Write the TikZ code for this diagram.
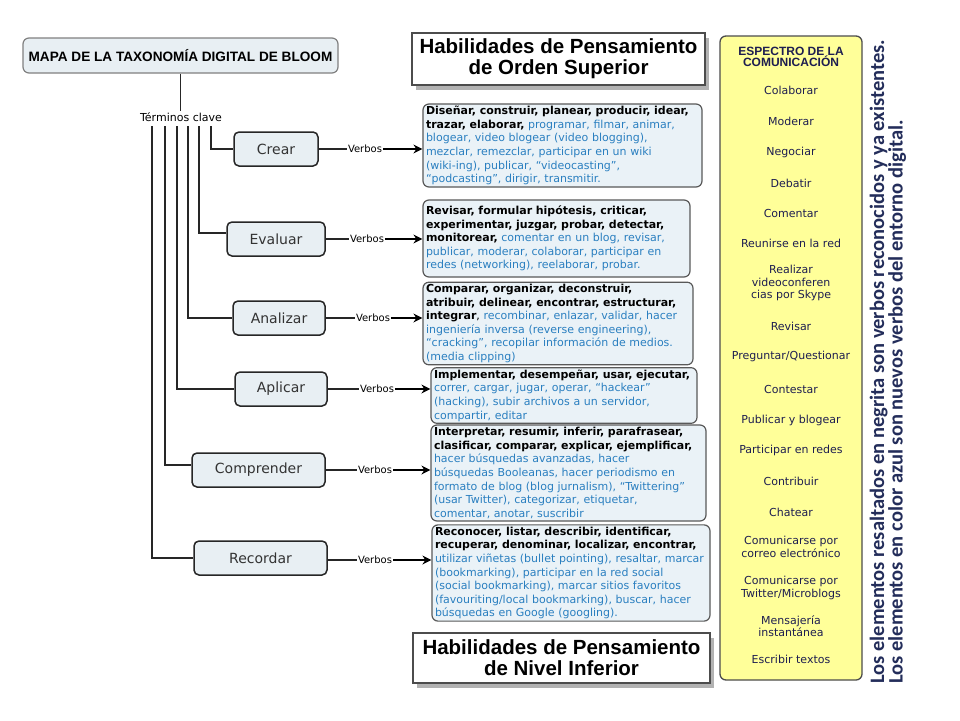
\documentclass[tikz,border=0pt]{standalone}
\usepackage{fontspec}
\setmainfont{DejaVu Sans}
\newfontfamily\libfont{Liberation Sans}
\newfontfamily\carlfont{Carlito}
\usetikzlibrary{shadows,arrows.meta,calc}
\definecolor{vblue}{RGB}{42,127,192}
\definecolor{navy}{RGB}{30,30,80}
\definecolor{notecol}{RGB}{35,45,90}
\definecolor{lvfill}{RGB}{232,239,243}
\definecolor{vfill}{RGB}{234,242,247}
\definecolor{ylw}{RGB}{255,255,153}
\newcommand{\vbo}[1]{\textbf{#1}}
\newcommand{\vbl}[1]{\textcolor{vblue}{#1}}
\begin{document}
\begin{tikzpicture}[x=1pt,y=-1pt,
  titlebox/.style={draw=black!50, line width=1.2pt, fill=lvfill, rounded corners=6pt,
    minimum width=315pt, minimum height=35pt, font=\libfont\bfseries\fontsize{13.6}{15}\selectfont},
  terms/.style={font=\fontsize{11}{13}\selectfont, inner sep=1pt},
  level/.style={draw=black!85, line width=1.5pt, fill=lvfill, rounded corners=5pt,
    minimum height=34pt, font=\fontsize{14}{16}\selectfont, text=black!80},
  conn/.style={line width=1.5pt, draw=black!85},
  verbl/.style={font=\fontsize{10}{12}\selectfont, inner sep=1pt},
  arr/.style={line width=1.5pt, draw=black, -{Stealth[length=9pt,width=9pt]}},
  vbox/.style={draw=black!65, line width=1.2pt, fill=vfill, rounded corners=6pt, align=left,
    font=\fontsize{11}{13.6}\selectfont, inner xsep=3pt, inner ysep=2pt},
  hdr/.style={draw=black!70, line width=1.2pt, fill=white,
    drop shadow={shadow xshift=4pt,shadow yshift=-5pt,fill=black!60},
    font=\libfont\bfseries\fontsize{20.5}{21}\selectfont, align=center},
  ybox/.style={draw=black!70, line width=1.3pt, fill=ylw, rounded corners=6pt},
  item/.style={font=\fontsize{11}{12.5}\selectfont, text=navy, align=center, inner sep=0pt},
]
\fill[white] (0,0) rectangle (960,720);
\useasboundingbox (0,0) rectangle (960,720);

% title and key terms
\node[titlebox] (title) at (180.5,55.5) {MAPA DE LA TAXONOMÍA DIGITAL DE BLOOM};
\node[terms] (terms) at (181,117) {Términos clave};
\draw[conn] (title.south) -- (title.south |- terms.north);

% levels
\node[level, minimum width=84pt]  (crear)      at (276,149)   {Crear};
\node[level, minimum width=98pt]  (evaluar)    at (276,239)   {Evaluar};
\node[level, minimum width=92pt]  (analizar)   at (279,318)   {Analizar};
\node[level, minimum width=92pt]  (aplicar)    at (281,389)   {Aplicar};
\node[level, minimum width=133pt] (comprender) at (258.5,470) {Comprender};
\node[level, minimum width=133pt] (recordar)   at (260.5,558) {Recordar};

\coordinate (r1) at (211,126);
\coordinate (r2) at (199,126);
\coordinate (r3) at (188,126);
\coordinate (r4) at (177,126);
\coordinate (r5) at (165,126);
\coordinate (r6) at (152,126);
\draw[conn] (r1) |- (crear.west);
\draw[conn] (r2) |- ([yshift=6pt]evaluar.west);
\draw[conn] (r3) |- (analizar.west);
\draw[conn] (r4) |- (aplicar.west);
\draw[conn] (r5) |- ([yshift=5pt]comprender.west);
\draw[conn] (r6) |- (recordar.west);

% Verbos labels
\node[verbl] (vc) at (365,149) {Verbos};
\node[verbl] (ve) at (367,239) {Verbos};
\node[verbl] (va) at (373,318) {Verbos};
\node[verbl] (vp) at (377,389) {Verbos};
\node[verbl] (vm) at (375,470) {Verbos};
\node[verbl] (vr) at (375,560) {Verbos};
\draw[conn] (crear.east) -- (vc.west);
\draw[conn] (evaluar.east) -- (ve.west);
\draw[conn] (analizar.east) -- (va.west);
\draw[conn] (aplicar.east) -- (vp.west);
\draw[conn] (comprender.east) -- (vm.west);
\draw[conn] (recordar.east |- vr.west) -- (vr.west);

% headers
\node[hdr, minimum width=293pt, minimum height=52pt] (hsup) at (558.5,59)
  {Habilidades de Pensamiento\\de Orden Superior};
\node[hdr, minimum width=297pt, minimum height=50pt] (hinf) at (561.5,658)
  {Habilidades de Pensamiento\\de Nivel Inferior};

% verb boxes
\node[vbox, text width=273pt, minimum height=83pt] (bc) at (562.5,145.5) {%
\vbo{Diseñar, construir, planear, producir, idear,}\\
\vbo{trazar, elaborar,} \vbl{programar, filmar, animar,}\\
\vbl{blogear, video blogear (video blogging),}\\
\vbl{mezclar, remezclar, participar en un wiki}\\
\vbl{(wiki-ing), publicar, “videocasting”,}\\
\vbl{“podcasting”, dirigir, transmitir.}};
\node[vbox, text width=261pt, minimum height=77pt] (be) at (556.5,238.5) {%
\vbo{Revisar, formular hipótesis, criticar,}\\
\vbo{experimentar, juzgar, probar, detectar,}\\
\vbo{monitorear,} \vbl{comentar en un blog, revisar,}\\
\vbl{publicar, moderar, colaborar, participar en}\\
\vbl{redes (networking), reelaborar, probar.}};
\node[vbox, text width=264pt, minimum height=81pt] (ba) at (558,323.5) {%
\vbo{Comparar, organizar, deconstruir,}\\
\vbo{atribuir, delinear, encontrar, estructurar,}\\
\vbo{integrar}, \vbl{recombinar, enlazar, validar, hacer}\\
\vbl{ingeniería inversa (reverse engineering),}\\
\vbl{“cracking”, recopilar información de medios.}\\
\vbl{(media clipping)}};
\node[vbox, text width=260pt, minimum height=55pt] (bp) at (564,395.5) {%
\vbo{Implementar, desempeñar, usar, ejecutar,}\\
\vbl{correr, cargar, jugar, operar, “hackear”}\\
\vbl{(hacking), subir archivos a un servidor,}\\
\vbl{compartir, editar}};
\node[vbox, text width=269pt, minimum height=96pt] (bm) at (568.5,473) {%
\vbo{Interpretar, resumir, inferir, parafrasear,}\\
\vbo{clasificar, comparar, explicar, ejemplificar,}\\
\vbl{hacer búsquedas avanzadas, hacer}\\
\vbl{búsquedas Booleanas, hacer periodismo en}\\
\vbl{formato de blog (blog jurnalism), “Twittering”}\\
\vbl{(usar Twitter), categorizar, etiquetar,}\\
\vbl{comentar, anotar, suscribir}};
\node[vbox, text width=272pt, minimum height=94pt] (br) at (571,573) {%
\vbo{Reconocer, listar, describir, identificar,}\\
\vbo{recuperar, denominar, localizar, encontrar,}\\
\vbl{utilizar viñetas (bullet pointing), resaltar, marcar}\\
\vbl{(bookmarking), participar en la red social}\\
\vbl{(social bookmarking), marcar sitios favoritos}\\
\vbl{(favouriting/local bookmarking), buscar, hacer}\\
\vbl{búsquedas en Google (googling).}};

\draw[arr] (vc.east) -- (vc.east -| bc.west);
\draw[arr] (ve.east) -- (ve.east -| be.west);
\draw[arr] (va.east) -- (va.east -| ba.west);
\draw[arr] (vp.east) -- (vp.east -| bp.west);
\draw[arr] (vm.east) -- (vm.east -| bm.west);
\draw[arr] (vr.east) -- (vr.east -| br.west);

% communication spectrum
\node[ybox, minimum width=142pt, minimum height=644pt] (spec) at (791,358) {};
\node[item, font=\libfont\bfseries\fontsize{12}{11.5}\selectfont] (s0) at (791,57) {ESPECTRO DE LA\\COMUNICACIÓN};
\node[item] (s1) at (791,90) {Colaborar};
\node[item] (s2) at (791,121) {Moderar};
\node[item] (s3) at (791,152) {Negociar};
\node[item] (s4) at (791,183) {Debatir};
\node[item] (s5) at (791,213) {Comentar};
\node[item] (s6) at (791,243) {Reunirse en la red};
\node[item] (s7) at (791,283) {Realizar\\videoconferen\\cias por Skype};
\node[item] (s8) at (791,326) {Revisar};
\node[item] (s9) at (791,356) {Preguntar/Questionar};
\node[item] (s10) at (791,389) {Contestar};
\node[item] (s11) at (791,420) {Publicar y blogear};
\node[item] (s12) at (791,450) {Participar en redes};
\node[item] (s13) at (791,481) {Contribuir};
\node[item] (s14) at (791,512) {Chatear};
\node[item] (s15) at (791,547) {Comunicarse por\\correo electrónico};
\node[item] (s16) at (791,588) {Comunicarse por\\Twitter/Microblogs};
\node[item] (s17) at (791,626) {Mensajería\\instantánea};
\node[item] (s18) at (791,659) {Escribir textos};

% side note
\node[rotate=90, anchor=west, inner sep=0pt, align=left, text=notecol,
  font=\carlfont\bfseries\fontsize{20.5}{18.5}\selectfont] (note) at (888,684)
  {Los elementos resaltados en negrita son verbos reconocidos y ya existentes.\\
   Los elementos en color azul son nuevos verbos del entorno digital.};
\end{tikzpicture}
\end{document}
